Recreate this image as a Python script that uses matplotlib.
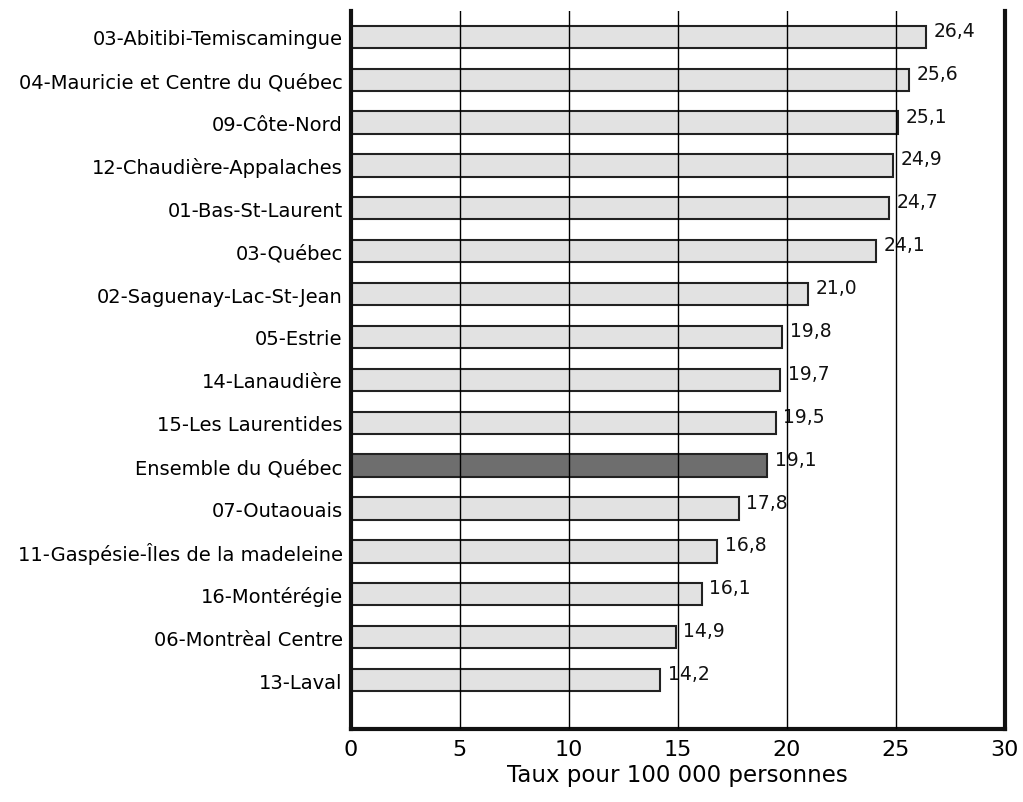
import numpy as np
import matplotlib
matplotlib.use('Agg')
import matplotlib.pyplot as plt

# Taux par région, du plus élevé au plus bas
regions = ['03-Abitibi-Temiscamingue', '04-Mauricie et Centre du Québec',
           '09-Côte-Nord', '12-Chaudière-Appalaches', '01-Bas-St-Laurent',
           '03-Québec', '02-Saguenay-Lac-St-Jean', '05-Estrie',
           '14-Lanaudière', '15-Les Laurentides', 'Ensemble du Québec',
           '07-Outaouais', '11-Gaspésie-Îles de la madeleine',
           '16-Montérégie', '06-Montrèal Centre', '13-Laval']
taux = [26.4, 25.6, 25.1, 24.9, 24.7, 24.1, 21.0, 19.8,
        19.7, 19.5, 19.1, 17.8, 16.8, 16.1, 14.9, 14.2]
xticks = [0, 5, 10, 15, 20, 25, 30]

plt.rcParams['font.family'] = ['DejaVu Sans']

fig = plt.figure(figsize=(10.23, 8.03), dpi=100)
ax = fig.add_axes([0.343, 0.091, 0.639, 0.894])

y = np.arange(len(regions))
colors = ['#6e6e6e' if r == 'Ensemble du Québec' else '#e2e2e2' for r in regions]
ax.barh(y, taux, height=0.52, color=colors, edgecolor='#222222', linewidth=1.5, zorder=2)

for yi, v in zip(y, taux):
    ax.text(v + 0.35, yi - 0.15, f'{v:.1f}'.replace('.', ','), va='center', ha='left',
            fontsize=13.5, color='#111111', zorder=1)

ax.set_xlim(0, 30)
ax.set_ylim(len(regions) - 1 + 1.14, -0.6)
ax.set_xticks(xticks)
ax.set_xticklabels([str(t) for t in xticks], fontsize=16)
ax.set_yticks(y)
ax.set_yticklabels(regions, fontsize=14)
ax.tick_params(axis='x', length=0, pad=7)
ax.tick_params(axis='y', length=0, pad=6)

for t in xticks[1:-1]:
    ax.axvline(t, color='black', linewidth=1.0, zorder=3)

ax.spines['top'].set_visible(False)
for s in ['left', 'bottom', 'right']:
    ax.spines[s].set_linewidth(3)
    ax.spines[s].set_color('#111111')

ax.set_xlabel('Taux pour 100 000 personnes', fontsize=16.5, labelpad=3)

fig.savefig('out.png', dpi=100)
